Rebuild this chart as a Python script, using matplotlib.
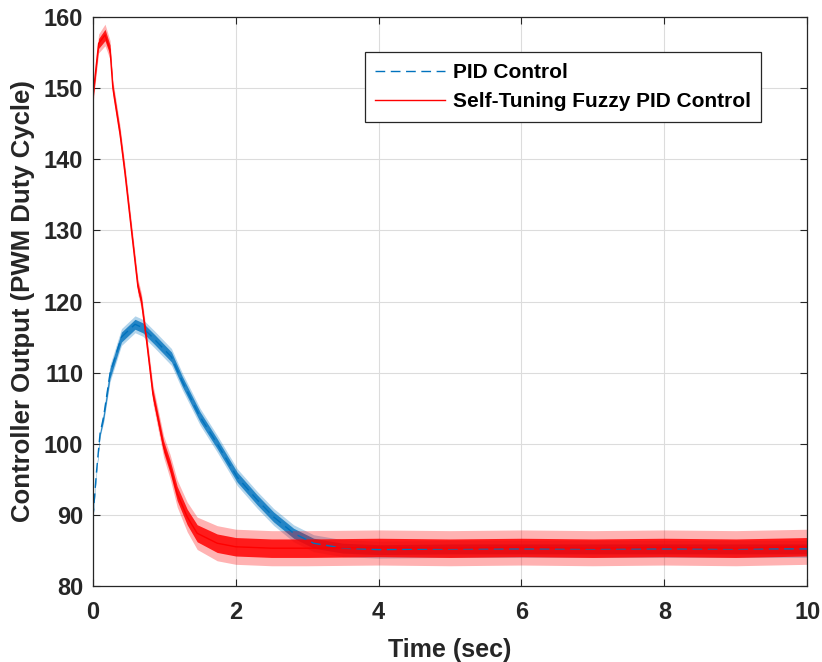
import numpy as np
import matplotlib
matplotlib.use("Agg")
import matplotlib.pyplot as plt

# values (sec, PWM duty cycle)
pid_t = [0, 0.05, 0.10, 0.15, 0.24, 0.40, 0.59, 0.70, 0.87, 1.10, 1.25, 1.50,
         1.74, 2.02, 2.30, 2.53, 2.81, 3.09, 3.5, 4, 5, 6, 7, 8, 9, 10]
pid_u = [89.5, 96.0, 101.4, 103.8, 109.9, 115.0, 116.8, 116.3, 114.6, 112.2,
         108.8, 103.8, 100.0, 95.3, 92.1, 89.7, 87.4, 86.0, 85.3, 85.1, 85.2,
         85.2, 85.2, 85.2, 85.2, 85.2]
pid_noise = [0.2, 0.2, 0.3, 0.5, 0.7, 0.7, 0.7, 0.7, 0.7, 0.7, 0.7, 0.7,
             0.7, 0.7, 0.7, 0.7, 0.7, 0.7, 0.7, 0.7, 0.7, 0.7, 0.7, 0.7, 0.7, 0.7]

fuzzy_t = [0, 0.08, 0.17, 0.24, 0.28, 0.38, 0.45, 0.54, 0.63, 0.68, 0.75, 0.84,
           0.99, 1.08, 1.18, 1.32, 1.46, 1.74, 2.0, 2.5, 3, 4, 5, 6, 7, 8, 9, 10]
fuzzy_u = [148.8, 156.3, 157.5, 155.4, 150.0, 143.6, 138.0, 130.0, 122.1,
           120.0, 114.6, 107.0, 99.6, 96.8, 93.0, 89.7, 87.4, 86.0, 85.5,
           85.3, 85.3, 85.4, 85.3, 85.4, 85.3, 85.4, 85.3, 85.5]
fuzzy_noise = [0.6, 0.7, 0.8, 0.7, 0.6, 0.6, 0.6, 0.6, 0.6, 0.6, 0.6, 0.7,
               0.8, 0.9, 1.0, 1.1, 1.2, 1.3, 1.3, 1.3, 1.3, 1.3, 1.3, 1.3,
               1.3, 1.3, 1.3, 1.3]

BLUE = "#0072BD"
RED = "#FF0000"
INK = "#262626"

plt.rcParams["font.family"] = ["Liberation Sans", "DejaVu Sans"]
plt.rcParams["font.weight"] = "bold"

fig = plt.figure(figsize=(8.22, 6.62), dpi=100)
ax = fig.add_axes([0.113, 0.115, 0.869, 0.859])

pt = np.array(pid_t)
pu = np.array(pid_u)
pn = np.array(pid_noise)
ft = np.array(fuzzy_t)
fu = np.array(fuzzy_u)
fn = np.array(fuzzy_noise)

# PID (drawn first, sits under the fuzzy trace)
ax.fill_between(pt, pu - 1.7 * pn, pu + 1.7 * pn, color=BLUE, alpha=0.3, lw=0)
ax.fill_between(pt, pu - pn, pu + pn, color=BLUE, alpha=0.8, lw=0)
ax.plot(pt, pu, color=BLUE, lw=1.0, dashes=(7, 4), label="PID Control")

# self-tuning fuzzy PID
ax.fill_between(ft, fu - 1.9 * fn, fu + 1.9 * fn, color=RED, alpha=0.3, lw=0)
ax.fill_between(ft, fu - fn, fu + fn, color=RED, alpha=0.85, lw=0)
ax.plot(ft, fu, "-", color=RED, lw=1.0, label="Self-Tuning Fuzzy PID Control")

ax.set_xlim(0, 10)
ax.set_ylim(80, 160)
ax.set_xticks(range(0, 11, 2))
ax.set_yticks(range(80, 161, 10))
ax.tick_params(direction="in", top=True, right=True, length=5, width=0.8,
               labelsize=17, colors=INK)
ax.tick_params(axis="x", pad=11)
ax.tick_params(axis="y", pad=7)
for lab in ax.get_xticklabels() + ax.get_yticklabels():
    lab.set_fontweight("bold")
for sp in ax.spines.values():
    sp.set_color(INK)
    sp.set_linewidth(0.9)
ax.grid(True, color="#dcdcdc", lw=0.8)
ax.set_axisbelow(True)

ax.set_xlabel("Time (sec)", fontsize=18, fontweight="bold", color=INK,
              labelpad=10)
ax.set_ylabel("Controller Output (PWM Duty Cycle)", fontsize=18.5,
              fontweight="bold", color=INK, labelpad=6)

leg = ax.legend(loc="upper right", bbox_to_anchor=(0.936, 0.938), fontsize=15,
                handlelength=3.35, frameon=True, fancybox=False,
                framealpha=1, edgecolor=INK, borderpad=0.5,
                labelspacing=0.5, handletextpad=0.4, borderaxespad=0)
leg.get_frame().set_linewidth(0.9)
for txt in leg.get_texts():
    txt.set_fontweight("bold")

fig.savefig("out.png", dpi=100)
